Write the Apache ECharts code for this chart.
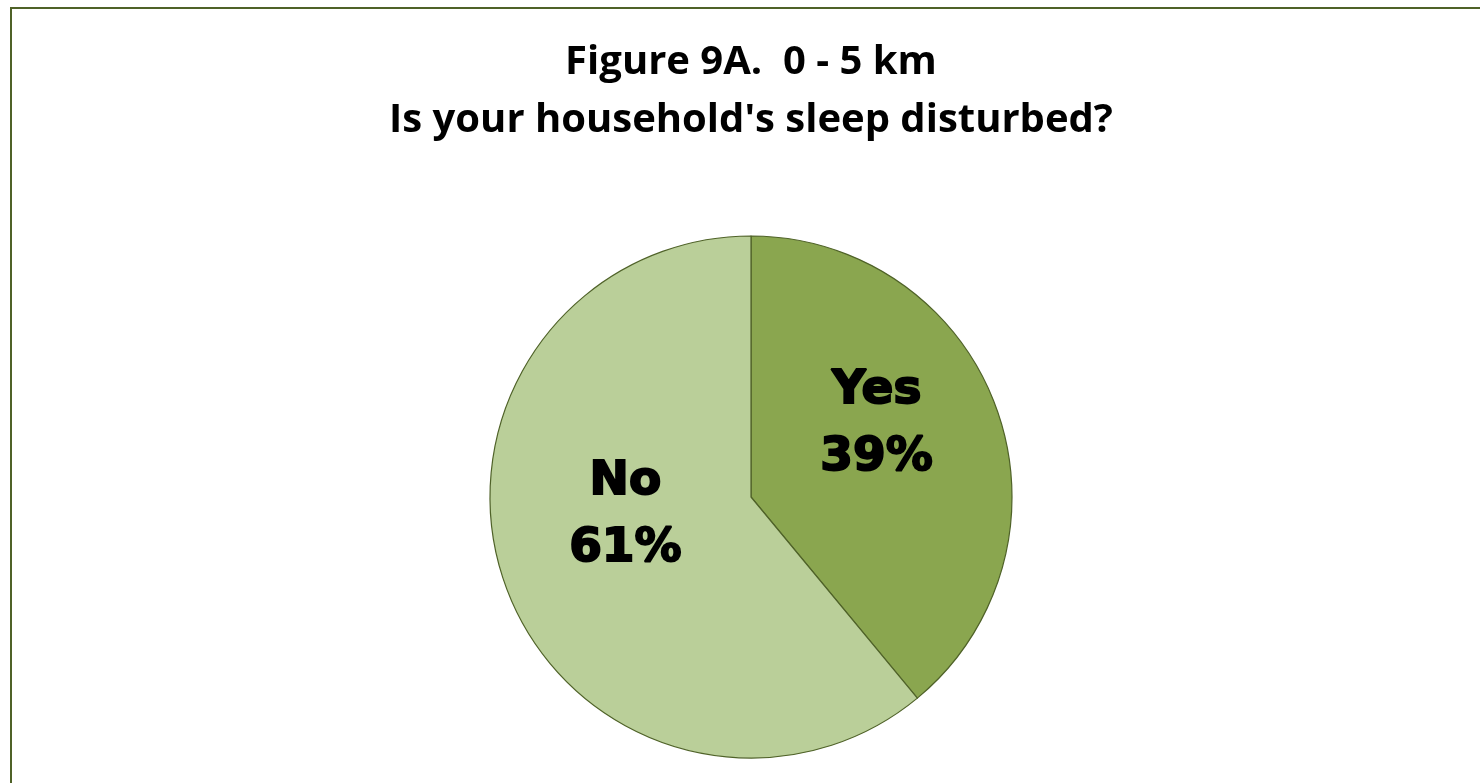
<!DOCTYPE html>
<html>
<head>
<meta charset="utf-8">
<script src="https://cdn.jsdelivr.net/npm/echarts@6/dist/echarts.min.js"></script>
<style>
  html, body { margin: 0; padding: 0; background: #fff; }
  #pie { width: 1480px; height: 783px; }
</style>
</head>
<body>
<div id="pie"></div>
<script>
var titleLines = ['Figure 9A.  0 - 5 km', "Is your household's sleep disturbed?"];
var categories = ['Yes', 'No'];
var percents = [39, 61];
var sliceColors = ['#8AA64F', '#BACF99'];

var myChart = echarts.init(document.getElementById('pie'));

var option = {
    backgroundColor: '#FFF',
    animation: false,
    title: {
        text: titleLines.join('\n'),
        left: 746,
        top: 29,
        textAlign: 'center',
        textStyle: {
            fontFamily: 'Open Sans',
            fontWeight: 'bold',
            fontSize: 40,
            lineHeight: 58,
            color: '#000'
        }
    },
    graphic: [
        {
            type: 'rect',
            shape: { x: 11, y: 8, width: 2000, height: 2000 },
            style: { fill: 'none', stroke: '#4F6228', lineWidth: 2 },
            silent: true
        }
    ],
    series: [
        {
            type: 'pie',
            radius: 261,
            center: [751, 497],
            startAngle: 90,
            clockwise: true,
            data: categories.map(function (name, i) {
                return {
                    name: name,
                    value: percents[i],
                    itemStyle: { color: sliceColors[i] }
                };
            }),
            itemStyle: {
                borderColor: '#4F6228',
                borderWidth: 1.2
            },
            label: {
                show: true,
                position: 'inside',
                offset: [0, -27],
                formatter: function (p) { return p.name + '\n' + p.value + '%'; },
                fontFamily: 'DejaVu Sans',
                fontWeight: 'bold',
                fontSize: 47,
                lineHeight: 67,
                color: '#000',
                textBorderColor: '#000',
                textBorderWidth: 2
            },
            labelLine: { show: false },
            emphasis: { disabled: true }
        }
    ]
};

myChart.setOption(option);
</script>
</body>
</html>
